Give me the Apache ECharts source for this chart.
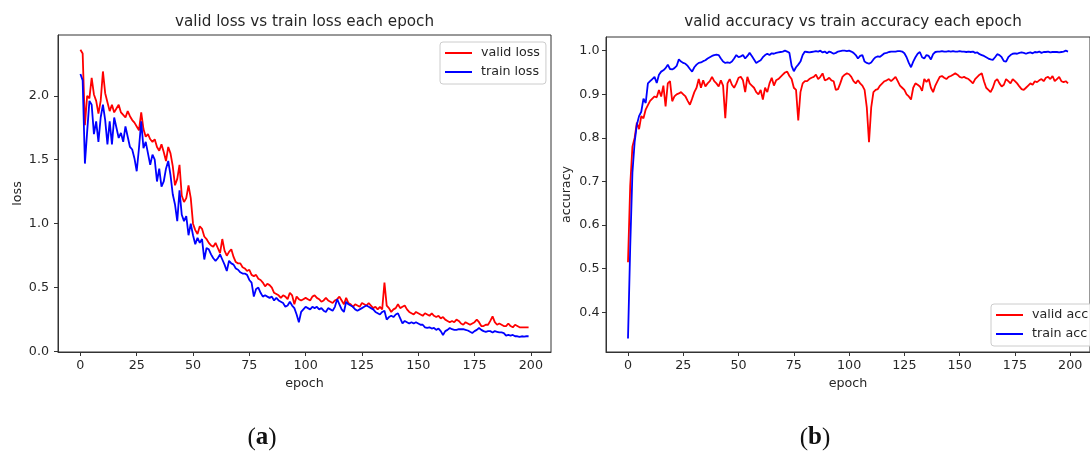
<!DOCTYPE html>
<html>
<head>
<meta charset="utf-8">
<title>Training curves</title>
<script src="https://cdn.jsdelivr.net/npm/echarts@6/dist/echarts.min.js"></script>
<style>
  html, body { margin: 0; padding: 0; background: #fff; }
  #chart { width: 1090px; height: 452px; }
</style>
</head>
<body>
<div id="chart"></div>
<script>
// Per-epoch loss values (epochs 0..199)
const validLoss = [
  2.36, 2.33, 1.77, 2.00, 1.98, 2.14, 2.01, 1.96, 1.86, 1.96,
  2.19, 2.02, 1.95, 1.88, 1.93, 1.87, 1.90, 1.93, 1.87, 1.85,
  1.83, 1.88, 1.84, 1.81, 1.79, 1.76, 1.73, 1.87, 1.74, 1.68,
  1.70, 1.66, 1.64, 1.66, 1.60, 1.57, 1.62, 1.56, 1.49, 1.60,
  1.55, 1.45, 1.30, 1.35, 1.46, 1.22, 1.17, 1.20, 1.30, 1.20,
  1.00, 0.95, 0.92, 0.98, 0.96, 0.90, 0.88, 0.85, 0.83, 0.82,
  0.85, 0.81, 0.77, 0.88, 0.79, 0.75, 0.78, 0.80, 0.74, 0.70,
  0.69, 0.69, 0.66, 0.65, 0.63, 0.64, 0.60, 0.59, 0.60, 0.57,
  0.56, 0.54, 0.51, 0.53, 0.52, 0.50, 0.46, 0.45, 0.44, 0.42,
  0.44, 0.43, 0.41, 0.46, 0.44, 0.37, 0.43, 0.41, 0.40, 0.41,
  0.42, 0.41, 0.40, 0.43, 0.44, 0.42, 0.41, 0.39, 0.40, 0.42,
  0.40, 0.39, 0.38, 0.40, 0.41, 0.43, 0.40, 0.37, 0.42, 0.38,
  0.37, 0.35, 0.37, 0.36, 0.35, 0.38, 0.37, 0.36, 0.38, 0.36,
  0.34, 0.35, 0.33, 0.35, 0.33, 0.54, 0.36, 0.34, 0.31, 0.33,
  0.34, 0.37, 0.34, 0.35, 0.36, 0.33, 0.31, 0.30, 0.29, 0.31,
  0.30, 0.29, 0.28, 0.30, 0.29, 0.28, 0.30, 0.28, 0.27, 0.28,
  0.26, 0.27, 0.25, 0.24, 0.23, 0.24, 0.23, 0.25, 0.24, 0.22,
  0.21, 0.23, 0.22, 0.21, 0.22, 0.23, 0.25, 0.23, 0.20, 0.20,
  0.21, 0.21, 0.24, 0.275, 0.23, 0.21, 0.22, 0.21, 0.20, 0.20,
  0.22, 0.20, 0.19, 0.21, 0.20, 0.19, 0.19, 0.19, 0.19, 0.19
];
const trainLoss = [
  2.17, 2.12, 1.47, 1.72, 1.96, 1.93, 1.70, 1.80, 1.64, 1.83,
  1.93, 1.81, 1.62, 1.80, 1.62, 1.83, 1.75, 1.67, 1.71, 1.64,
  1.76, 1.68, 1.60, 1.58, 1.51, 1.41, 1.59, 1.80, 1.59, 1.64,
  1.55, 1.46, 1.54, 1.50, 1.33, 1.43, 1.29, 1.33, 1.43, 1.49,
  1.38, 1.23, 1.15, 1.02, 1.26, 1.07, 1.02, 1.06, 0.91, 1.00,
  0.91, 0.84, 0.89, 0.85, 0.88, 0.72, 0.81, 0.80, 0.76, 0.73,
  0.71, 0.73, 0.76, 0.72, 0.68, 0.63, 0.71, 0.69, 0.68, 0.65,
  0.64, 0.62, 0.61, 0.61, 0.60, 0.56, 0.54, 0.43, 0.49, 0.50,
  0.46, 0.43, 0.44, 0.43, 0.42, 0.43, 0.40, 0.42, 0.40, 0.39,
  0.38, 0.35, 0.36, 0.39, 0.36, 0.34, 0.29, 0.23, 0.31, 0.33,
  0.35, 0.34, 0.33, 0.35, 0.34, 0.35, 0.33, 0.34, 0.32, 0.31,
  0.34, 0.33, 0.32, 0.35, 0.41, 0.37, 0.33, 0.31, 0.39, 0.37,
  0.36, 0.35, 0.33, 0.32, 0.33, 0.34, 0.35, 0.36, 0.35, 0.34,
  0.33, 0.31, 0.30, 0.29, 0.31, 0.32, 0.25, 0.27, 0.28, 0.27,
  0.29, 0.30, 0.26, 0.22, 0.24, 0.23, 0.22, 0.23, 0.22, 0.23,
  0.22, 0.21, 0.21, 0.19, 0.185, 0.19, 0.18, 0.185, 0.17, 0.18,
  0.16, 0.13, 0.16, 0.17, 0.185, 0.175, 0.17, 0.17, 0.175, 0.175,
  0.175, 0.17, 0.165, 0.155, 0.146, 0.16, 0.17, 0.185, 0.17, 0.16,
  0.155, 0.16, 0.16, 0.15, 0.16, 0.155, 0.15, 0.15, 0.145, 0.125,
  0.13, 0.125, 0.13, 0.12, 0.12, 0.115, 0.12, 0.118, 0.12, 0.12
];

// Per-epoch accuracy values (epochs 0..199)
const validAcc = [
  0.515, 0.690, 0.780, 0.800, 0.835, 0.820, 0.850, 0.845, 0.865, 0.875,
  0.885, 0.890, 0.895, 0.893, 0.910, 0.895, 0.920, 0.872, 0.925, 0.930,
  0.884, 0.895, 0.900, 0.902, 0.905, 0.900, 0.895, 0.885, 0.876, 0.890,
  0.905, 0.915, 0.935, 0.915, 0.932, 0.918, 0.925, 0.930, 0.940, 0.930,
  0.925, 0.918, 0.932, 0.920, 0.845, 0.925, 0.935, 0.922, 0.915, 0.925,
  0.938, 0.940, 0.932, 0.905, 0.940, 0.925, 0.920, 0.915, 0.905, 0.900,
  0.910, 0.888, 0.915, 0.905, 0.925, 0.938, 0.920, 0.932, 0.935, 0.940,
  0.945, 0.950, 0.952, 0.942, 0.935, 0.915, 0.910, 0.840, 0.905, 0.925,
  0.930, 0.930, 0.935, 0.938, 0.940, 0.945, 0.935, 0.940, 0.948, 0.932,
  0.934, 0.938, 0.932, 0.930, 0.910, 0.912, 0.925, 0.940, 0.945, 0.948,
  0.946, 0.940, 0.930, 0.925, 0.932, 0.925, 0.920, 0.910, 0.870, 0.790,
  0.870, 0.905, 0.910, 0.912, 0.920, 0.925, 0.930, 0.932, 0.935, 0.930,
  0.935, 0.940, 0.930, 0.920, 0.915, 0.910, 0.900, 0.895, 0.888, 0.915,
  0.925, 0.922, 0.918, 0.908, 0.935, 0.928, 0.935, 0.915, 0.905, 0.920,
  0.930, 0.940, 0.942, 0.938, 0.935, 0.940, 0.942, 0.945, 0.948, 0.945,
  0.940, 0.938, 0.940, 0.937, 0.935, 0.930, 0.925, 0.935, 0.940, 0.945,
  0.948, 0.930, 0.915, 0.910, 0.905, 0.915, 0.930, 0.935, 0.925, 0.918,
  0.922, 0.935, 0.930, 0.925, 0.935, 0.930, 0.925, 0.918, 0.912, 0.910,
  0.915, 0.920, 0.925, 0.922, 0.930, 0.928, 0.932, 0.935, 0.930, 0.938,
  0.940, 0.935, 0.942, 0.930, 0.935, 0.940, 0.930, 0.928, 0.930, 0.925
];
const trainAcc = [
  0.340, 0.550, 0.720, 0.790, 0.830, 0.850, 0.860, 0.890, 0.880, 0.925,
  0.930, 0.935, 0.940, 0.926, 0.945, 0.952, 0.955, 0.960, 0.968, 0.958,
  0.957, 0.960, 0.965, 0.980, 0.975, 0.972, 0.970, 0.965, 0.958, 0.952,
  0.962, 0.968, 0.972, 0.973, 0.976, 0.978, 0.982, 0.985, 0.988, 0.990,
  0.991, 0.990, 0.982, 0.975, 0.972, 0.973, 0.972, 0.975, 0.982, 0.990,
  0.985, 0.987, 0.990, 0.982, 0.988, 0.995, 0.988, 0.980, 0.972, 0.975,
  0.978, 0.985, 0.990, 0.993, 0.990, 0.994, 0.993, 0.995, 0.996, 0.997,
  0.998, 1.000, 0.998, 0.995, 0.965, 0.953, 0.962, 0.968, 0.975, 0.990,
  0.998, 0.997, 0.996, 0.997, 0.998, 0.999, 0.998, 1.000, 0.996, 0.998,
  0.994, 0.998, 0.996, 0.993, 0.995, 0.998, 0.999, 1.000, 1.000, 0.999,
  1.000, 0.998, 0.995, 0.990, 0.982, 0.988, 0.990, 0.975, 0.972, 0.970,
  0.973, 0.980, 0.985, 0.987, 0.986, 0.990, 0.994, 0.995, 0.997, 0.998,
  0.998, 0.998, 0.999, 0.999, 0.998, 0.994, 0.985, 0.972, 0.962, 0.975,
  0.985, 0.993, 0.997, 0.985, 0.982, 0.990, 0.988, 0.980, 0.992, 0.997,
  0.998, 0.998, 0.999, 0.998, 0.998, 0.999, 0.998, 0.999, 0.998, 0.998,
  0.999, 0.998, 0.998, 0.997, 0.998, 0.997, 0.998, 0.995, 0.996, 0.992,
  0.990, 0.988, 0.985, 0.982, 0.980, 0.979, 0.985, 0.992, 0.990, 0.985,
  0.976, 0.975, 0.985, 0.990, 0.993, 0.994, 0.993, 0.995, 0.996, 0.995,
  0.993, 0.995, 0.996, 0.994, 0.997, 0.996, 0.998, 0.995, 0.997, 0.997,
  0.998, 0.996, 0.997, 0.997, 0.997, 0.996, 0.997, 0.998, 1.000, 0.998
];

// Tick labels
const epochTicks = [0, 25, 50, 75, 100, 125, 150, 175, 200];
const lossTicks = [0.0, 0.5, 1.0, 1.5, 2.0];
const accTicks = [0.4, 0.5, 0.6, 0.7, 0.8, 0.9, 1.0];

const pairs = arr => arr.map((v, i) => [i, v]);

const FONT = 'DejaVu Sans';
const TEXT = '#262626';
const SPINE = '#333';

function xAxisFor(gridIndex) {
  return {
    type: 'value', gridIndex, min: -9.95, max: 208.95,
    name: 'epoch', nameLocation: 'middle', nameGap: 24,
    nameTextStyle: { fontFamily: FONT, fontSize: 12.7, color: TEXT },
    axisLine: { show: true, onZero: false, lineStyle: { color: SPINE, width: 1 } },
    axisTick: { show: true, length: 4, customValues: epochTicks, lineStyle: { color: SPINE } },
    axisLabel: { customValues: epochTicks, margin: 7, fontFamily: FONT, fontSize: 12.7, color: TEXT },
    splitLine: { show: false }
  };
}

function yAxisFor(gridIndex, min, max, ticks, name, gap, margin) {
  return {
    type: 'value', gridIndex, min, max,
    name, nameLocation: 'middle', nameGap: gap,
    nameTextStyle: { fontFamily: FONT, fontSize: 12.7, color: TEXT },
    axisLine: { show: true, onZero: false, lineStyle: { color: SPINE, width: 1 } },
    axisTick: { show: true, length: 4, customValues: ticks, lineStyle: { color: SPINE } },
    axisLabel: {
      customValues: ticks, margin, fontFamily: FONT, fontSize: 12.7, color: TEXT,
      formatter: v => Number(v).toFixed(1)
    },
    splitLine: { show: false }
  };
}

function legendFor(names, left, top) {
  return {
    data: names, orient: 'vertical', left, top,
    icon: 'rect', itemWidth: 27, itemHeight: 2, itemGap: 5,
    padding: [4, 6, 5, 5],
    backgroundColor: 'rgba(255,255,255,0.85)',
    borderColor: '#cccccc', borderWidth: 1, borderRadius: 3,
    textStyle: { fontFamily: FONT, fontSize: 12.7, color: TEXT, lineHeight: 14, padding: [0, 0, 0, 4] }
  };
}

function line(name, data, color, xi, yi) {
  return {
    name, type: 'line', data: pairs(data), xAxisIndex: xi, yAxisIndex: yi,
    showSymbol: false, symbol: 'none',
    lineStyle: { color, width: 1.8 }, itemStyle: { color },
    emphasis: { disabled: true }
  };
}

// Sub-figure caption: plain parentheses around a bold letter
function caption(letter, x) {
  return {
    type: 'text', x, y: 438,
    style: {
      text: '{p|(}{b|' + letter + '}{p|)}', align: 'center', verticalAlign: 'middle',
      rich: {
        p: { fontFamily: 'Liberation Serif', fontSize: 25, fill: '#111' },
        b: { fontFamily: 'Liberation Serif', fontSize: 25, fontWeight: 'bold', fill: '#111' }
      }
    }
  };
}

const chart = echarts.init(document.getElementById('chart'), null, { renderer: 'canvas' });
chart.setOption({
  animation: false,
  backgroundColor: '#ffffff',
  grid: [
    { left: 58, top: 35, width: 493, height: 317, show: true, borderColor: SPINE, borderWidth: 1, backgroundColor: 'transparent' },
    { left: 606, top: 37, width: 494, height: 315, show: true, borderColor: SPINE, borderWidth: 1, backgroundColor: 'transparent' }
  ],
  xAxis: [xAxisFor(0), xAxisFor(1)],
  yAxis: [
    yAxisFor(0, -0.003, 2.475, lossTicks, 'loss', 34, 9),
    yAxisFor(1, 0.309, 1.0314, accTicks, 'accuracy', 33, 6.5)
  ],
  legend: [
    legendFor(['valid loss', 'train loss'], 440, 42),
    legendFor(['valid acc', 'train acc'], 991, 304)
  ],
  series: [
    line('valid loss', validLoss, '#ff0000', 0, 0),
    line('train loss', trainLoss, '#0000ff', 0, 0),
    line('valid acc', validAcc, '#ff0000', 1, 1),
    line('train acc', trainAcc, '#0000ff', 1, 1)
  ],
  graphic: [
    { type: 'text', x: 304.5, y: 22, style: { text: 'valid loss vs train loss each epoch', align: 'center', verticalAlign: 'middle', fontFamily: FONT, fontSize: 15.2, fill: TEXT } },
    { type: 'text', x: 853, y: 22, style: { text: 'valid accuracy vs train accuracy each epoch', align: 'center', verticalAlign: 'middle', fontFamily: FONT, fontSize: 15.2, fill: TEXT } },
    caption('a', 262),
    caption('b', 815)
  ]
});
</script>
</body>
</html>
